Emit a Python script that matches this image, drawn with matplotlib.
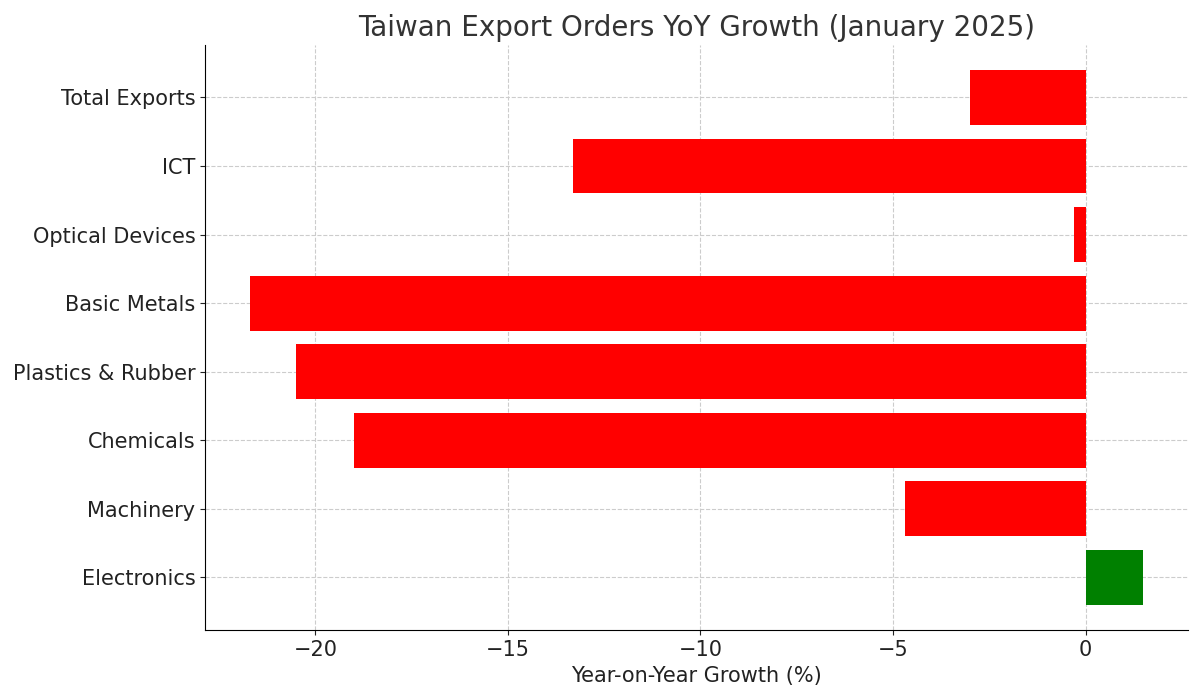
import matplotlib.pyplot as plt

categories = ["Electronics", "Machinery", "Chemicals", "Plastics & Rubber",
              "Basic Metals", "Optical Devices", "ICT", "Total Exports"]
growth = [1.5, -4.7, -19.0, -20.5, -21.7, -0.3, -13.3, -3.0]

colors = ["green" if v > 0 else "red" for v in growth]

fig, ax = plt.subplots(figsize=(12, 6.98), dpi=100)
ax.barh(categories, growth, color=colors, zorder=3)
ax.set_title("Taiwan Export Orders YoY Growth (January 2025)", fontsize=20, color="#333333")
ax.set_xlabel("Year-on-Year Growth (%)", fontsize=15, color="#222222")
ax.tick_params(labelsize=15, colors="#222222")
ax.grid(True, linestyle="--", color="#cccccc", zorder=0)
ax.spines["top"].set_visible(False)
ax.spines["right"].set_visible(False)
ax.set_ylim(-0.77, 7.77)
plt.subplots_adjust(left=0.171, right=0.99, top=0.936, bottom=0.097)
plt.savefig("out.png")
